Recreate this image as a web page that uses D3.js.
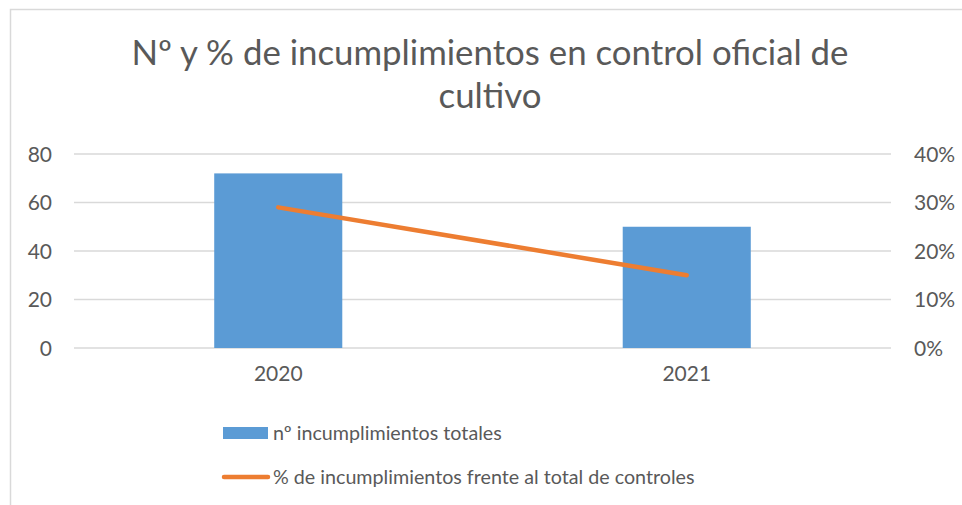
<!DOCTYPE html>
<html><head><meta charset="utf-8">
<script src="https://cdn.jsdelivr.net/npm/d3@7"></script>
<style>
html,body{margin:0;padding:0;background:#fff;}
svg{display:block;font-family:Lato, "Open Sans", sans-serif;}
</style></head>
<body><svg id="c" width="962" height="505"></svg>
<script>
const titleLines = ["Nº y % de incumplimientos en control oficial de", "cultivo"];
const categories = ["2020", "2021"];
const countValues = [72, 50];
const pctValues = [0.29, 0.15];
const leftTicks = [0, 20, 40, 60, 80];
const rightTicks = [0, 0.1, 0.2, 0.3, 0.4];
const seriesNames = ["nº incumplimientos totales", "% de incumplimientos frente al total de controles"];

const svg = d3.select("#c");
const textColor = "#595959", gridColor = "#D9D9D9";
const barColor = "#5B9BD5", lineColor = "#ED7D31";

// chart border
svg.append("rect").attr("x", 10.5).attr("y", 9.5).attr("width", 960).attr("height", 510)
  .attr("fill", "none").attr("stroke", gridColor).attr("stroke-width", 1.5);

const plot = {l: 74, r: 891, t: 154, b: 348};
const x = d3.scaleBand().domain(categories).range([plot.l, plot.r]).padding(0);
const yL = d3.scaleLinear().domain([0, 80]).range([plot.b, plot.t]);
const yR = d3.scaleLinear().domain([0, 0.4]).range([plot.b, plot.t]);

// title
const title = svg.append("text").attr("text-anchor", "middle").attr("fill", textColor)
  .attr("font-size", 34.8);
titleLines.forEach((t, i) => title.append("tspan").attr("x", 490).attr("y", 65 + i * 43).text(t));

// gridlines
svg.append("g").selectAll("line").data(leftTicks).join("line")
  .attr("x1", plot.l).attr("x2", plot.r)
  .attr("y1", d => yL(d)).attr("y2", d => yL(d))
  .attr("stroke", gridColor).attr("stroke-width", 1.5);

// left axis
const axL = svg.append("g").attr("transform", `translate(${plot.l},0)`)
  .call(d3.axisLeft(yL).tickValues(leftTicks).tickSize(0).tickPadding(22));
axL.select(".domain").remove();
axL.selectAll("text").attr("fill", textColor).attr("font-size", 21).attr("font-family", "Lato").attr("dy", "0.35em");

// right axis
const axR = svg.append("g").attr("transform", `translate(${plot.r},0)`)
  .call(d3.axisRight(yR).tickValues(rightTicks).tickSize(0).tickPadding(23).tickFormat(d3.format(".0%")));
axR.select(".domain").remove();
axR.selectAll("text").attr("fill", textColor).attr("font-size", 21).attr("font-family", "Lato").attr("dy", "0.35em");

// bottom axis
const axB = svg.append("g").attr("transform", `translate(0,${plot.b})`)
  .call(d3.axisBottom(x).tickSize(0).tickPadding(18));
axB.select(".domain").remove();
axB.selectAll("text").attr("fill", textColor).attr("font-size", 21).attr("font-family", "Lato");

// bars
const barW = x.bandwidth() * 0.3135;
svg.append("g").selectAll("rect").data(categories).join("rect")
  .attr("x", (d) => x(d) + x.bandwidth() / 2 - barW / 2)
  .attr("width", barW)
  .attr("y", (d, i) => yL(countValues[i]))
  .attr("height", (d, i) => yL(0) - yL(countValues[i]))
  .attr("fill", barColor);

// line
const line = d3.line().x((d, i) => x(categories[i]) + x.bandwidth() / 2).y(d => yR(d));
svg.append("path").datum(pctValues).attr("d", line)
  .attr("fill", "none").attr("stroke", lineColor).attr("stroke-width", 4.5).attr("stroke-linecap", "round");

// legend
const lg = svg.append("g");
lg.append("rect").attr("x", 223).attr("y", 427).attr("width", 45).attr("height", 12).attr("fill", barColor);
lg.append("text").attr("x", 273).attr("y", 433).attr("dy", "0.35em").attr("fill", textColor)
  .attr("font-size", 19.7).text(seriesNames[0]);
lg.append("line").attr("x1", 224).attr("x2", 268).attr("y1", 477).attr("y2", 477)
  .attr("stroke", lineColor).attr("stroke-width", 4.5).attr("stroke-linecap", "round");
lg.append("text").attr("x", 273).attr("y", 477).attr("dy", "0.35em").attr("fill", textColor)
  .attr("font-size", 19.7).text(seriesNames[1]);
</script></body></html>
